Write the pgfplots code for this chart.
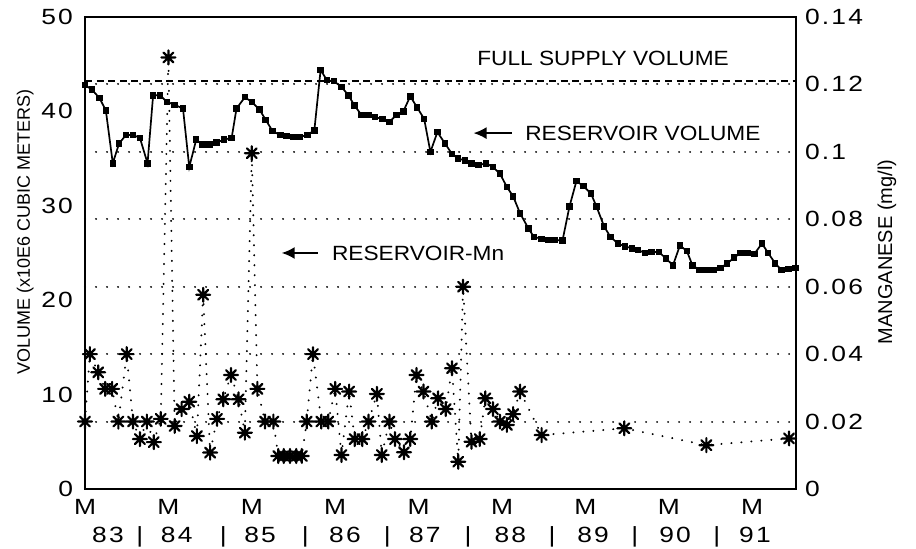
\documentclass[border=0pt]{standalone}
\usepackage{fontspec}
\setmainfont{Liberation Sans}
\newfontfamily\tickfont[FakeStretch=1.2,LetterSpace=10]{Liberation Sans}
\newfontfamily\notefont[FakeStretch=1.1]{Liberation Sans}
\usepackage{pgfplots}
\pgfplotsset{compat=1.18}
\usetikzlibrary{arrows.meta}

% eight-armed asterisk used for the manganese samples
\pgfdeclareplotmark{star8}{%
  \pgfpathmoveto{\pgfqpoint{-\pgfplotmarksize}{0pt}}%
  \pgfpathlineto{\pgfqpoint{\pgfplotmarksize}{0pt}}%
  \pgfpathmoveto{\pgfqpoint{0pt}{-\pgfplotmarksize}}%
  \pgfpathlineto{\pgfqpoint{0pt}{\pgfplotmarksize}}%
  \pgfpathmoveto{\pgfqpoint{-0.7\pgfplotmarksize}{-0.7\pgfplotmarksize}}%
  \pgfpathlineto{\pgfqpoint{0.7\pgfplotmarksize}{0.7\pgfplotmarksize}}%
  \pgfpathmoveto{\pgfqpoint{-0.7\pgfplotmarksize}{0.7\pgfplotmarksize}}%
  \pgfpathlineto{\pgfqpoint{0.7\pgfplotmarksize}{-0.7\pgfplotmarksize}}%
  \pgfusepathqstroke}

\begin{document}
\begin{tikzpicture}
\useasboundingbox (-42.5pt,-30pt) rectangle (415.5pt,244.5pt);
\begin{axis}[scale only axis,
width=355.5pt,
height=236pt,
xmin=0, xmax=102.3,
ymin=0, ymax=50,
axis line style={line width=0.9pt},
xtick={0,12,...,96},
xticklabels={M,M,M,M,M,M,M,M,M},
extra x ticks={3.3,7.9,13.2,19.9,25.2,31.7,37.4,43.5,48.9,55.1,61.2,67.2,73.1,79.1,84.9,90.9,96.4},
extra x tick labels={83,|,84,|,85,|,86,|,87,|,88,|,89,|,90,|,91},
extra x tick style={tick label style={yshift=-14pt}},
ytick={0,10,20,30,40,50},
yticklabels={0,10,20,30,40,50},
xtick pos=bottom, ytick pos=left,
major tick length=0pt,
tick label style={font=\tickfont\fontsize{11}{13}\selectfont},
xticklabel style={anchor=base, yshift=-13pt},
yticklabel style={xshift=-2.5pt},
ylabel={VOLUME (x10E6 CUBIC METERS)},
ylabel style={font=\fontsize{9}{10}\selectfont, at={(axis description cs:-0.084,0.545)}, anchor=center}]

% full supply level
\addplot[black, line width=0.8pt, dash pattern=on 3.5pt off 2.3pt] coordinates {(0,43.2) (102.3,43.2)};

% reservoir volume
\addplot[black, line width=0.85pt, mark=square*, mark size=1.2pt] coordinates {
(0.0,42.8) (1.0,42.3) (2.1,41.4) (3.0,40.1) (4.0,34.5) (4.9,36.6) (5.9,37.5) (6.9,37.5)
(7.9,37.2) (9.0,34.5) (9.8,41.7) (10.8,41.7) (11.8,41.0) (12.9,40.7) (14.1,40.3) (15.0,34.1)
(16.0,37.0) (16.9,36.5) (17.9,36.5) (18.9,36.7) (20.0,37.0) (21.1,37.2) (21.8,40.3) (23.0,41.5)
(24.0,41.0) (25.1,40.2) (26.0,39.1) (27.0,37.9) (28.1,37.5) (29.0,37.4) (30.0,37.3) (30.9,37.3)
(32.0,37.5) (33.0,38.0) (33.9,44.4) (34.8,43.3) (35.8,43.2) (36.9,42.6) (37.9,41.7) (38.8,40.6)
(39.8,39.6) (40.8,39.6) (41.7,39.4) (42.8,39.2) (43.8,38.9) (44.8,39.6) (45.8,40.0) (46.8,41.6)
(47.8,40.4) (48.8,39.2) (49.7,35.7) (50.7,37.8) (51.8,36.6) (52.8,35.5) (53.7,35.0) (54.7,34.8)
(55.6,34.5) (56.6,34.3) (57.7,34.5) (58.7,34.1) (59.7,33.4) (60.7,32.0) (61.6,31.0) (62.6,29.2)
(63.8,27.6) (64.6,26.7) (65.7,26.5) (66.7,26.4) (67.6,26.4) (68.7,26.3) (69.7,29.9) (70.7,32.6)
(71.7,32.1) (72.8,31.3) (73.6,29.9) (74.7,27.8) (75.6,26.7) (76.7,26.0) (77.7,25.7) (78.7,25.5)
(79.6,25.3) (80.6,25.0) (81.5,25.1) (82.6,25.1) (83.6,24.4) (84.6,23.7) (85.6,25.8) (86.6,25.2)
(87.4,23.7) (88.4,23.2) (89.4,23.2) (90.4,23.2) (91.4,23.4) (92.4,23.9) (93.4,24.5) (94.3,25.0)
(95.3,25.0) (96.3,24.9) (97.4,26.0) (98.3,25.0) (99.3,23.9) (100.2,23.2) (101.2,23.3) (102.2,23.4)
};

\node[anchor=base west, inner sep=0pt, font=\notefont\fontsize{10.3}{12}\selectfont] at (axis cs:56.4,44.9) {FULL SUPPLY VOLUME};
\node[anchor=west, font=\notefont\fontsize{10.3}{12}\selectfont, inner sep=0pt] at (axis cs:63.3,37.7) {RESERVOIR VOLUME};
\draw[-{Latex[length=6.5pt,width=6pt]}, line width=0.9pt] (axis cs:61.4,37.7) -- (axis cs:55.9,37.7);
\node[anchor=west, font=\notefont\fontsize{10.3}{12}\selectfont, inner sep=0pt] at (axis cs:35.5,25.0) {RESERVOIR-Mn};
\draw[-{Latex[length=6.5pt,width=6pt]}, line width=0.9pt] (axis cs:33.5,25.0) -- (axis cs:28.3,25.0);
\end{axis}

\begin{axis}[scale only axis,
width=355.5pt,
height=236pt,
xmin=0, xmax=102.3,
ymin=0, ymax=0.14,
axis y line*=right,
axis x line=none,
axis line style={line width=0.9pt},
ytick={0,0.02,0.04,0.06,0.08,0.1,0.12,0.14},
yticklabels={0,0.02,0.04,0.06,0.08,0.1,0.12,0.14},
major tick length=0pt,
ymajorgrids,
grid style={black, line width=1pt, line cap=round, dash pattern=on 0.1pt off 5.4pt},
tick label style={font=\tickfont\fontsize{11}{13}\selectfont},
yticklabel style={xshift=1pt},
ylabel={MANGANESE (mg/l)},
ylabel style={font=\fontsize{10}{11}\selectfont, at={(axis description cs:1.128,0.502)}, anchor=center}]

% reservoir manganese samples
\addplot[black, line width=1pt, line cap=round, dash pattern=on 0.1pt off 4.9pt,
  mark=star8, mark size=3.5pt, mark options={solid, line width=1.1pt}] coordinates {
(0.0,0.020) (0.7,0.040) (1.9,0.0346) (2.9,0.0297) (3.9,0.0297) (4.8,0.020) (6.0,0.040) (6.9,0.020)
(7.9,0.0148) (8.9,0.020) (9.9,0.0139) (10.9,0.0208) (12.0,0.128) (12.9,0.0187) (13.9,0.0237) (15.0,0.0259)
(16.1,0.0157) (17.0,0.0576) (18.0,0.0108) (19.0,0.0208) (19.9,0.0266) (21.0,0.0338) (22.1,0.0266) (23.0,0.0167)
(24.0,0.0996) (24.8,0.0297) (25.9,0.020) (27.1,0.020) (27.8,0.0098) (28.6,0.0098) (29.5,0.0098) (30.4,0.0098)
(31.2,0.0098) (31.9,0.020) (32.8,0.040) (34.0,0.020) (35.0,0.020) (36.0,0.0297) (36.9,0.0101) (38.0,0.0289)
(38.8,0.0148) (39.9,0.0148) (40.8,0.020) (42.0,0.0282) (42.7,0.0101) (43.8,0.020) (44.6,0.0148) (45.9,0.0109)
(46.8,0.0148) (47.7,0.0338) (48.7,0.0289) (49.9,0.020) (50.8,0.0269) (51.9,0.0237) (52.8,0.0358) (53.7,0.0081)
(54.4,0.060) (55.6,0.014) (56.8,0.0148) (57.6,0.0269) (58.7,0.0237) (59.7,0.020) (60.7,0.019) (61.6,0.0222)
(62.6,0.0289) (65.7,0.016) (77.6,0.018) (89.4,0.013) (101.3,0.015)
};
\end{axis}
\end{tikzpicture}
\end{document}
